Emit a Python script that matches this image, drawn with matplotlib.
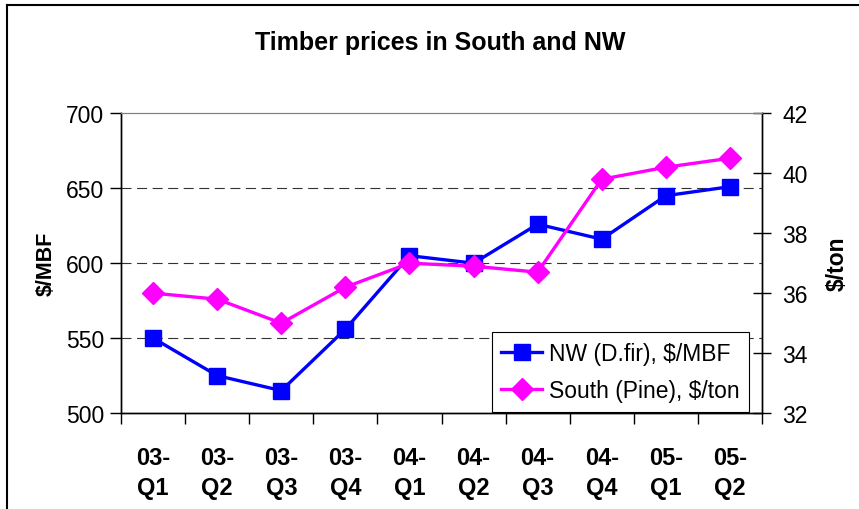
from matplotlib import pyplot as plt
from matplotlib.lines import Line2D
import numpy as np

quarters = ["03-\nQ1", "03-\nQ2", "03-\nQ3", "03-\nQ4", "04-\nQ1",
            "04-\nQ2", "04-\nQ3", "04-\nQ4", "05-\nQ1", "05-\nQ2"]
nw_price = [550, 525, 515, 556, 605, 600, 626, 616, 645, 651]
south_price = [36.0, 35.8, 35.0, 36.2, 37.0, 36.9, 36.7, 39.8, 40.2, 40.5]

left_ticks = [500, 550, 600, 650, 700]
right_ticks = [32, 34, 36, 38, 40, 42]

plt.rcParams['font.family'] = ['Liberation Sans', 'DejaVu Sans']
NARROW = ['Liberation Sans Narrow', 'Liberation Sans', 'DejaVu Sans']


def main():
    fig = plt.figure(figsize=(8.59, 5.10), dpi=100)
    ax = fig.add_axes([0.141, 0.188, 0.746, 0.588])
    ax2 = ax.twinx()

    x = np.arange(len(quarters))

    ax.plot(x, nw_price, color="#0000FF", linewidth=2.4, marker="s",
            markersize=11, zorder=3)
    ax2.plot(x, south_price, color="#FF00FF", linewidth=2.4, marker="D",
             markersize=11.5, zorder=3)

    ax.set_xlim(-0.5, len(quarters) - 0.5)
    ax.set_ylim(500, 700)
    ax2.set_ylim(32, 42)

    # dashed gridlines
    for v in [550, 600, 650]:
        ax.axhline(v, color="#333333", linestyle=(0, (9, 5)), linewidth=0.8, zorder=1)

    ax.set_yticks(left_ticks)
    ax.tick_params(axis="y", labelsize=16.5, direction="out", length=8,
                   width=1, pad=4)
    ax2.set_yticks(right_ticks)
    ax2.tick_params(axis="y", labelsize=16.5, direction="inout", length=13,
                    width=1, pad=8)

    ax.set_xticks(np.arange(-0.5, len(quarters)), labels=[])
    ax.tick_params(axis="x", direction="out", length=8, width=1)
    ax.set_xticks(x, labels=quarters, minor=True)
    ax.tick_params(axis="x", which="minor", length=0, pad=24)
    for lab in ax.get_xticklabels(minor=True):
        lab.set_fontweight("bold")
        lab.set_fontfamily(NARROW)
        lab.set_fontsize(17)
        lab.set_linespacing(1.35)

    ax.set_ylabel("$/MBF", fontsize=15.5, fontweight="bold", labelpad=7)
    ax2.set_ylabel("$/ton", fontsize=16.5, fontweight="bold", labelpad=13)

    for a in (ax, ax2):
        a.spines["top"].set_color("gray")
        a.spines["left"].set_linewidth(1)
        a.spines["right"].set_linewidth(1)
        a.spines["bottom"].set_linewidth(1)

    fig.text(0.512, 0.915, "Timber prices in South and NW", ha="center",
             va="center", fontsize=18, fontweight="bold")

    handles = [
        Line2D([], [], color="#0000FF", linewidth=2.4, marker="s", markersize=11),
        Line2D([], [], color="#FF00FF", linewidth=2.4, marker="D", markersize=11.5),
    ]
    leg = ax2.legend(handles, ["NW (D.fir), $/MBF", "South (Pine), $/ton"],
                     loc="lower right", bbox_to_anchor=(0.98, 0.005),
                     fontsize=16.5, frameon=True, fancybox=False,
                     edgecolor="black", framealpha=1, borderpad=0.4,
                     handlelength=1.8, handletextpad=0.3, labelspacing=0.65,
                     borderaxespad=0.0)
    leg.get_frame().set_linewidth(0.8)

    # outer frame of the chart area
    fig.add_artist(Line2D([0.008, 0.008], [0.0, 0.988], color="black",
                          linewidth=1.5, transform=fig.transFigure))
    fig.add_artist(Line2D([0.008, 1.0], [0.988, 0.988], color="black",
                          linewidth=1.5, transform=fig.transFigure))

    fig.savefig("out.png", dpi=100)


if __name__ == "__main__":
    main()
